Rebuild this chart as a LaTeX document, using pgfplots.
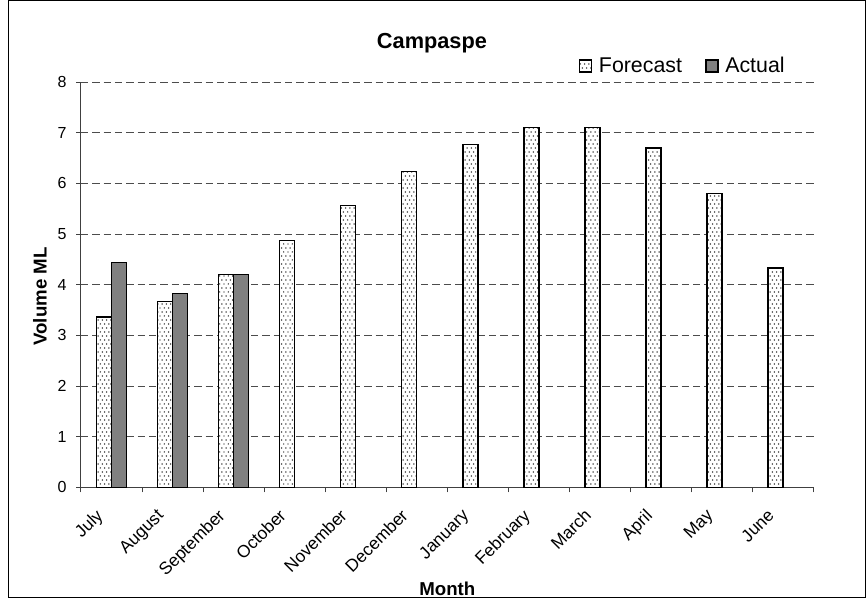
\documentclass[border=0pt]{standalone}
\usepackage{pgfplots}
\pgfplotsset{compat=1.18}
\usepackage{fontspec}
\setmainfont{Liberation Sans}
\usetikzlibrary{patterns}
\pgfdeclarepatternformonly{sparsedots}{\pgfqpoint{-1pt}{-1pt}}{\pgfqpoint{3pt}{5pt}}{\pgfqpoint{3.2pt}{6pt}}{%
  \pgfpathcircle{\pgfqpoint{0pt}{0pt}}{0.55pt}%
  \pgfpathcircle{\pgfqpoint{1.6pt}{3pt}}{0.55pt}%
  \pgfusepath{fill}}
\begin{document}
\begin{tikzpicture}
\useasboundingbox (0,0) rectangle (651pt,450pt);
\draw[line width=0.75pt] (6pt,1.5pt) rectangle (648.75pt,449.25pt);
\begin{axis}[
  at={(60.75pt,84.5pt)}, anchor=south west,
  scale only axis, width=549.5pt, height=304pt,
  ybar=0pt, bar width=0.246,
  xmin=-0.5, xmax=11.5, ymin=0, ymax=8,
  axis x line*=bottom, axis y line*=left,
  axis line style={black!75, line width=0.75pt},
  tick align=outside,
  major tick length=3.75pt, minor tick length=3.75pt,
  tick style={black!75, line width=0.75pt},
  xtick={0,...,11},
  xticklabels={July,August,September,October,November,December,January,February,March,April,May,June},
  minor xtick={-0.5,0.5,...,11.5},
  major x tick style={draw=none},
  ytick={0,...,7},
  extra y ticks={8},
  extra y tick style={grid style={gray!30, dash pattern=on 5.5pt off 3pt, line width=0.75pt}},
  ymajorgrids,
  major grid style={black!70, dash pattern=on 5.5pt off 3pt, line width=0.75pt},
  /pgf/number format/assume math mode=true,
  tick label style={font=\fontsize{12}{14}\selectfont},
  yticklabel style={inner sep=0pt, xshift=-7pt},
  xticklabel style={font=\fontsize{13}{15}\selectfont, inner sep=0pt, xshift=-12.5pt, yshift=-11.5pt, rotate=45, anchor=north east},
  xlabel={Month}, ylabel={Volume ML},
  xlabel style={font=\fontsize{14}{16}\selectfont\bfseries, at={(axis description cs:0.5,-0.266)}, anchor=base},
  ylabel style={font=\fontsize{14}{16}\selectfont\bfseries, at={(axis description cs:-0.056,0.471)}, anchor=center},
  title={Campaspe},
  title style={font=\fontsize{16.3}{19}\selectfont\bfseries, at={(axis description cs:0.479,1.0827)}, anchor=base, yshift=-6pt},
  legend columns=2,
  legend style={at={(axis description cs:0.6797,1.0395)}, anchor=west, draw=none, fill=none,
    inner sep=0pt, outer sep=0pt, font=\fontsize{16}{19}\selectfont,
    nodes={inner sep=0pt},
    /tikz/every odd column/.style={column sep=5pt},
    /tikz/every even column/.style={column sep=17.5pt}},
  legend image code/.code={\draw[#1] (0pt,-4.5pt) rectangle (9pt,4.5pt);},
]
\addplot[draw=black, line width=1pt, fill=white, postaction={pattern=sparsedots, pattern color=black}]
  coordinates {(0,3.36) (1,3.67) (2,4.20) (3,4.87) (4,5.56) (5,6.24) (6,6.77) (7,7.10) (8,7.10) (9,6.70) (10,5.80) (11,4.33)};
\addplot[draw=black, line width=1pt, fill=black!50]
  coordinates {(0,4.44) (1,3.83) (2,4.20)};
\legend{Forecast, Actual}
\end{axis}
\end{tikzpicture}
\end{document}
